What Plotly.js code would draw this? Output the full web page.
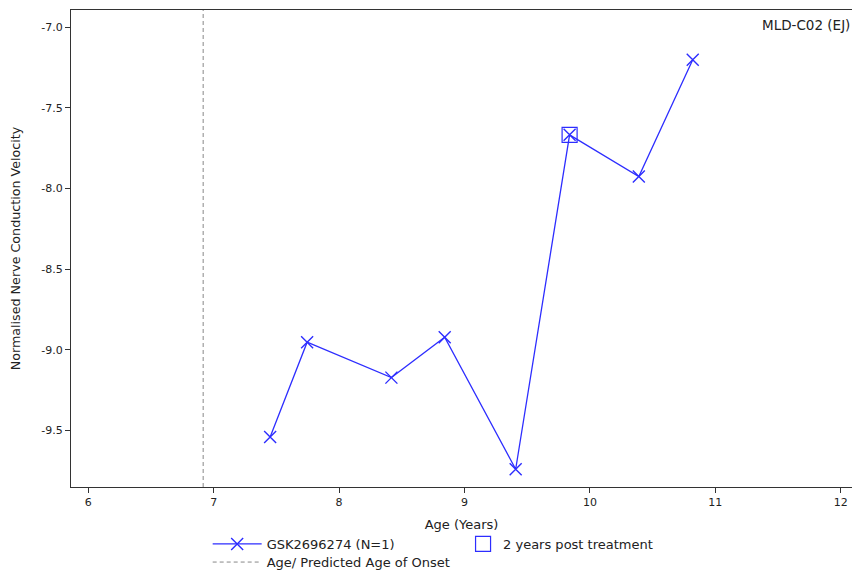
<!DOCTYPE html>
<html>
<head>
<meta charset="utf-8">
<script src="https://cdn.plot.ly/plotly-3.0.1.min.js"></script>
<style>html,body{margin:0;padding:0;background:#fff;}#chart{width:853px;height:574px;}</style>
</head>
<body>
<div id="chart"></div>
<script>
// Data
var ageYears = [7.45, 7.745, 8.417, 8.842, 9.408, 9.838, 10.39, 10.82];
var ncvValues = [-9.54, -8.952, -9.172, -8.921, -9.740, -7.667, -7.925, -7.202];
var postTreatmentAge = [9.838];
var postTreatmentValue = [-7.667];
var onsetAge = 6.916;
var xTickValues = [6, 7, 8, 9, 10, 11, 12];
var yTickValues = [-7.0, -7.5, -8.0, -8.5, -9.0, -9.5];
var xRange = [5.862, 12.09];
var yRange = [-9.85, -6.893];
var seriesName = 'GSK2696274 (N=1)';
var squareName = '2 years post treatment';
var onsetName = 'Age/ Predicted Age of Onset';
var panelLabel = 'MLD-C02 (EJ)';

var blue = 'rgb(45,45,255)';
var fontFam = '"DejaVu Sans", Verdana, sans-serif';

var traces = [
  {
    x: ageYears, y: ncvValues, name: seriesName, type: 'scatter', mode: 'lines+markers',
    line: {color: blue, width: 1.3},
    marker: {symbol: 'x-thin-open', size: 12, color: blue, line: {color: blue, width: 1.4}}
  },
  {
    x: postTreatmentAge, y: postTreatmentValue, name: squareName, type: 'scatter', mode: 'markers',
    legend: 'legend3',
    marker: {symbol: 'square-open', size: 15, color: blue, line: {color: blue, width: 1.2}}
  },
  {
    x: [onsetAge, onsetAge], y: yRange, name: onsetName, type: 'scatter', mode: 'lines',
    legend: 'legend2',
    line: {color: '#888888', width: 1, dash: '4px,3px'}
  }
];

var legendFont = {family: fontFam, size: 13, color: '#222'};

var layout = {
  width: 853, height: 574,
  margin: {l: 71, r: 1, t: 10, b: 87, autoexpand: false},
  paper_bgcolor: '#ffffff', plot_bgcolor: '#ffffff',
  font: {family: fontFam, size: 11, color: '#222'},
  showlegend: true,
  legend: {
    orientation: 'h', x: 0.175, xanchor: 'left', y: -0.088, yanchor: 'top',
    font: legendFont, itemwidth: 49, bgcolor: 'rgba(0,0,0,0)'
  },
  legend3: {
    orientation: 'h', x: 0.502, xanchor: 'left', y: -0.088, yanchor: 'top',
    font: legendFont, itemwidth: 30, bgcolor: 'rgba(0,0,0,0)'
  },
  legend2: {
    orientation: 'h', x: 0.175, xanchor: 'left', y: -0.126, yanchor: 'top',
    font: legendFont, itemwidth: 49, bgcolor: 'rgba(0,0,0,0)'
  },
  xaxis: {
    range: xRange, tickvals: xTickValues, ticktext: xTickValues.map(String),
    showgrid: false, zeroline: false, showline: true, mirror: true,
    linecolor: '#333', linewidth: 1, ticks: 'outside', ticklen: 5, tickcolor: '#333',
    tickfont: {family: fontFam, size: 11, color: '#222'},
    title: {text: 'Age (Years)', font: {family: fontFam, size: 13, color: '#222'}, standoff: 11}
  },
  yaxis: {
    range: yRange, tickvals: yTickValues, ticktext: yTickValues.map(function(v){return v.toFixed(1);}),
    showgrid: false, zeroline: false, showline: true, mirror: false,
    linecolor: '#333', linewidth: 1, ticks: 'outside', ticklen: 5, tickcolor: '#333',
    tickfont: {family: fontFam, size: 11, color: '#222'},
    title: {text: 'Normalised Nerve Conduction Velocity', font: {family: fontFam, size: 12.7, color: '#222'}, standoff: 17}
  },
  annotations: [{
    text: panelLabel, xref: 'paper', yref: 'paper', x: 1, y: 0.99, xanchor: 'right', yanchor: 'top',
    showarrow: false, font: {family: fontFam, size: 13.5, color: '#222'}
  }]
};

Plotly.newPlot('chart', traces, layout, {displayModeBar: false, staticPlot: true});
</script>
</body>
</html>
